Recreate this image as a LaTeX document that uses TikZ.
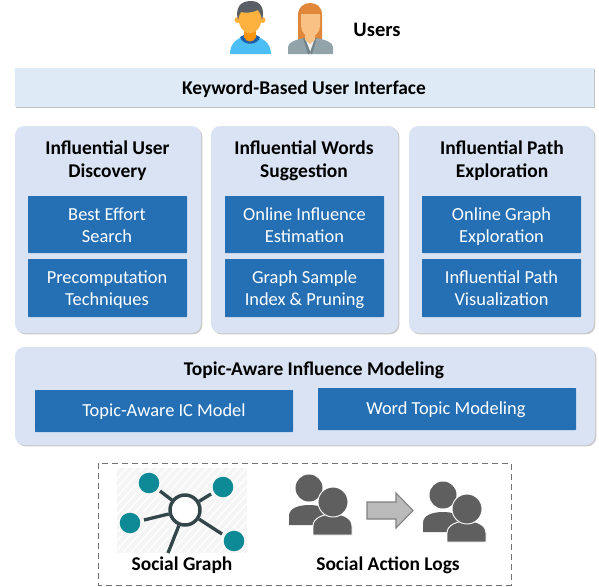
\documentclass[tikz,border=0pt]{standalone}
\usepackage{fontspec}
\setmainfont{Carlito}
\usetikzlibrary{shadows,patterns}
\definecolor{panelfill}{HTML}{DAE3F3}
\definecolor{headfill}{HTML}{DEEAF6}
\definecolor{blueb}{HTML}{2570B5}
\definecolor{tealc}{HTML}{0E8A96}
\definecolor{hubc}{HTML}{33474B}
\definecolor{peop}{HTML}{5F5F5F}
\definecolor{skin}{HTML}{FDB240}
\definecolor{skind}{HTML}{F9940F}
\definecolor{shirt}{HTML}{4BBEF5}
\definecolor{collar}{HTML}{1F5FA8}
\definecolor{hairm}{HTML}{5A5F66}
\definecolor{hairw}{HTML}{E0873A}
\definecolor{skinw}{HTML}{F9C184}
\definecolor{suit}{HTML}{92A4A9}
\definecolor{suitd}{HTML}{6F8388}
\tikzset{
 x=0.75pt,y=-0.75pt,
 panel/.style={draw=none,fill=panelfill,rounded corners=7pt,drop shadow={shadow xshift=1pt,shadow yshift=-1pt,opacity=.35,fill=black!60}},
 headbar/.style={draw=none,fill=headfill,drop shadow={shadow xshift=0.5pt,shadow yshift=-1pt,opacity=.4,fill=black!60}},
 inner/.style={draw=none,fill=blueb,rounded corners=0.5pt},
 innertext/.style={text=white,font=\fontsize{13.8}{16.6}\selectfont,align=center},
 title/.style={font=\fontsize{14.6}{17.2}\selectfont\bfseries,align=center,text=black},
 person/.style={fill=peop,draw=white,line width=.7pt},
 spoke/.style={draw=hubc,line width=2.5pt},
 leaf/.style={circle,fill=tealc,draw=none,minimum size=15.4pt,inner sep=0pt},
}
\newcommand{\people}[2]{%
 \begin{scope}[shift={(#1,#2)}]
  \fill[peop] (-20,37) -- (-20,28) .. controls (-20,20) and (-10,17) .. (0,17) .. controls (10,17) and (20,20) .. (20,28) -- (20,37) -- cycle;
  \fill[peop] (0,0) circle (13.5);
  \path[person] (4,47) -- (4,38) .. controls (4,30) and (14,26) .. (24,26) .. controls (34,26) and (43,30) .. (43,38) -- (43,47) -- cycle;
  \path[person] (24,14) circle (15);
 \end{scope}
}
\begin{document}
\begin{tikzpicture}
\useasboundingbox (0,0) rectangle (599,586);
% man
\fill[shirt] (230,54) .. controls (230,43) and (238,36) .. (250,36) .. controls (262,36) and (271,43) .. (271,54) -- cycle;
\fill[collar] (240,37) .. controls (243,46) and (258,46) .. (260,37) -- (256,35) -- (244,35) -- cycle;
\fill[skind] (244,28) rectangle (256,38);
\fill[skind] (244,37) .. controls (246,43) and (254,43) .. (256,37) -- cycle;
\fill[skin] (237.5,20) circle (3) (262.5,20) circle (3);
\fill[skin] (250,18) ellipse (11.5 and 15.5);
\fill[hairm] (238,20) .. controls (235,8) and (240,1) .. (251,1) .. controls (261,1) and (265,9) .. (262,20) .. controls (261,15) and (260,12) .. (258,10) .. controls (252,13) and (245,13) .. (241,12) .. controls (239,14) and (239,17) .. (238,20) -- cycle;
% woman
\fill[hairw] (298,40) -- (298,15) .. controls (298,7) and (304,3) .. (310,3) .. controls (317,3) and (322,7) .. (322,15) -- (322,40) -- cycle;
\fill[suit] (288,54) -- (288,47) .. controls (288,42) and (296,40) .. (303,38) -- (317,38) .. controls (325,40) and (333,42) .. (333,47) -- (333,54) -- cycle;
\fill[white!90!gray] (304,39) -- (310,54) -- (317,39) -- cycle;
\fill[suitd] (303,38) -- (308,54) -- (311,54) -- (305,38) -- cycle (317,38) -- (312,54) -- (309.5,54) -- (315,38) -- cycle;
\fill[skinw] (305,30) -- (315,30) -- (315,40) -- (310,44) -- (305,40) -- cycle;
\fill[skinw] (301,14) -- (320,14) -- (320,26) .. controls (320,33) and (314,37) .. (310.5,37) .. controls (307,37) and (301,33) .. (301,26) -- cycle;
\node[title,font=\fontsize{15.4}{17}\selectfont\bfseries] (users) at (377,30) {Users};
% header
\path[headbar] (15,68) rectangle (594,107);
\node[title] (kw) at (304,89.5) {Keyword-Based User Interface};
% panels
\path[panel] (15,126) rectangle (201,333);
\path[panel] (211,126) rectangle (398,333);
\path[panel] (409,126) rectangle (594,333);
\node[title] (t1) at (107.5,160.5) {Influential User\\Discovery};
\node[title] (t2) at (304,160.5) {Influential Words\\Suggestion};
\node[title] (t3) at (502,160.5) {Influential Path\\Exploration};
% inner column boxes
\foreach \xa/\xb in {28/187,225/384,422/581}{
 \path[inner] (\xa,196) rectangle (\xb,253);
 \path[inner] (\xa,259) rectangle (\xb,317);
}
\node[innertext] (a1) at (107,225) {Best Effort\\Search};
\node[innertext] (a2) at (107,289.5) {Precomputation\\Techniques};
\node[innertext] (b1) at (304.5,225) {Online Influence\\Estimation};
\node[innertext] (b2) at (304.5,290) {Graph Sample\\Index \& Pruning};
\node[innertext] (c1) at (501.5,227) {Online Graph\\Exploration};
\node[innertext] (c2) at (501.5,288.5) {Influential Path\\Visualization};
% lower panel
\path[panel] (15,347) rectangle (595,445);
\node[title] (tm) at (314,370) {Topic-Aware Influence Modeling};
\path[inner] (35,390) rectangle (293,432);
\path[inner] (318,388) rectangle (576,430);
\node[innertext] (ic) at (164,412) {Topic-Aware IC Model};
\node[innertext] (wt) at (446,410) {Word Topic Modeling};
% dashed box
\draw[draw=black!55,line width=.7pt,dash pattern=on 4.5pt off 3pt] (98,463) rectangle (511,585);
% social graph
\fill[gray!8] (117,468) rectangle (247,553);
\begin{scope}
 \clip (117,468) rectangle (247,553);
 \foreach \k in {-10,...,24}{
  \draw[white,line width=1pt] (100+\k*8,560) -- (190+\k*8,460);
 }
\end{scope}
\node[circle,draw=hubc,line width=2.6pt,fill=white,minimum size=22.5pt,inner sep=0pt] (hub) at (185,510) {};
\node[leaf] (n1) at (149,483) {};
\node[leaf] (n2) at (223,487) {};
\node[leaf] (n3) at (130,523) {};
\node[leaf] (n4) at (234,541) {};
\coordinate (s1) at (160,491);
\coordinate (s2) at (211,494);
\coordinate (s3) at (144,520);
\coordinate (s4) at (222,534);
\coordinate (s5) at (168,553);
\draw[spoke] (hub) -- (s1);
\draw[spoke] (hub) -- (s2);
\draw[spoke] (hub) -- (s3);
\draw[spoke] (hub) -- (s4);
\draw[spoke] (hub) -- (s5);
\node[title] (sg) at (182,565) {Social Graph};
% people
\people{309}{488}
\people{443}{495}
\draw[draw=black!50,fill=black!27,line width=.8pt] (367,502) -- (396,502) -- (396,493) -- (413,510.5) -- (396,528) -- (396,519) -- (367,519) -- cycle;
\node[title] (sl) at (388,565) {Social Action Logs};
\end{tikzpicture}
\end{document}
